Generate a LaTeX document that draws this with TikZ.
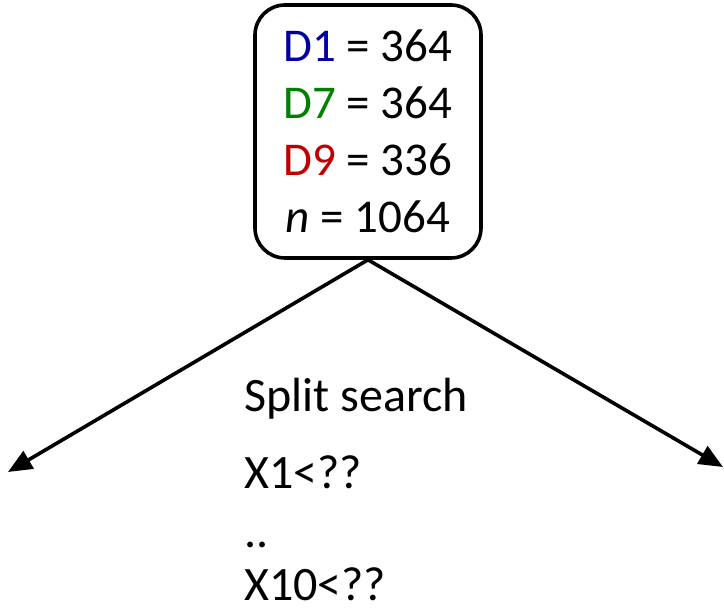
\documentclass[tikz,border=0pt]{standalone}
\usepackage{fontspec}
\setmainfont{Carlito}
\usetikzlibrary{arrows.meta}
\definecolor{dblue}{RGB}{0,0,160}
\definecolor{dgreen}{RGB}{0,128,0}
\definecolor{dred}{RGB}{192,0,0}
\begin{document}
\begin{tikzpicture}[x=1pt,y=-1pt,
  rootbox/.style={draw, line width=3.6pt, rounded corners=30pt,
    minimum width=226pt, minimum height=253pt, align=center,
    font=\fontsize{47}{57}\selectfont, inner sep=0pt},
  label/.style={anchor=base west, inner sep=0pt, font=\fontsize{48}{54}\selectfont},
  branch/.style={line width=3.6pt, -{Triangle[length=24pt,width=20pt]}}]
\useasboundingbox (0,0) rectangle (724,609);
% root node with class counts
\node[rootbox] (root) at (368,131.5)
  {\textcolor{dblue}{D1} = 364\\
   \textcolor{dgreen}{D7} = 364\\
   \textcolor{dred}{D9} = 336\\
   \textit{n} = 1064};
% branch ends
\coordinate (lft) at (8,472);
\coordinate (rgt) at (723,467);
\draw[branch] (root.south) -- (lft);
\draw[branch] (root.south) -- (rgt);
% split candidates
\node[label] (t1) at (244,412) {Split search};
\node[label] (t2) at (244,489) {X1<??};
\node[label] (t3) at (244,548) {..};
\node[label] (t4) at (244,601) {X10<??};
\end{tikzpicture}
\end{document}
